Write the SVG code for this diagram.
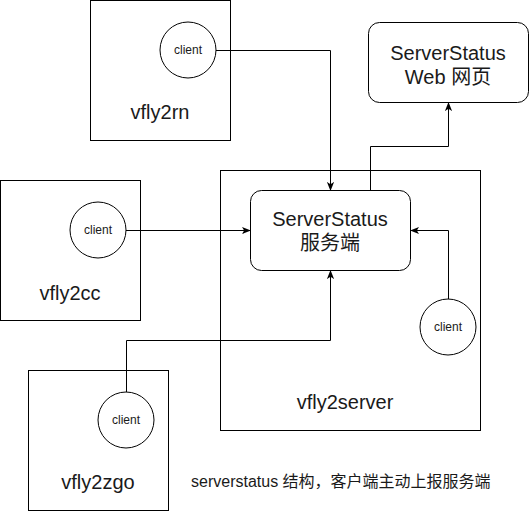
<svg xmlns="http://www.w3.org/2000/svg" width="529" height="511" viewBox="0 0 529 511">
<defs>
<style>
.box{fill:#fff;stroke:#000;stroke-width:1}
.c{fill:#fff;stroke:#000;stroke-width:1}
.lbl{font-family:"Liberation Sans","Noto Sans CJK SC",sans-serif;font-size:20px;fill:#1a1a1a;text-anchor:middle}
.cl{font-family:"Liberation Sans",sans-serif;font-size:12px;fill:#1a1a1a;text-anchor:middle}
.cap{font-family:"Liberation Sans","Noto Sans CJK SC",sans-serif;font-size:16px;fill:#1a1a1a}
.ln{fill:none;stroke:#000;stroke-width:1}
</style>
<marker id="ah" viewBox="0 0 10 10" refX="9" refY="5" markerWidth="9" markerHeight="9" markerUnits="userSpaceOnUse" orient="auto">
<path d="M0,1 L10,5 L0,9 L2.5,5 Z" fill="#000"/>
</marker>
</defs>
<g id="vfly2server"><rect class="box" x="220.5" y="170.5" width="260" height="260"/><text class="lbl" x="345" y="409">vfly2server</text></g>
<g id="vfly2rn"><rect class="box" x="90.5" y="0.5" width="140" height="140"/><text class="lbl" x="160" y="119">vfly2rn</text></g>
<g id="vfly2cc"><rect class="box" x="0.5" y="180.5" width="140" height="140"/><text class="lbl" x="70" y="300">vfly2cc</text></g>
<g id="vfly2zgo"><rect class="box" x="28.5" y="370.5" width="140" height="140"/><text class="lbl" x="98" y="489">vfly2zgo</text></g>
<g id="client-rn"><circle class="c" cx="188" cy="50" r="28"/><text class="cl" x="188" y="54">client</text></g>
<g id="client-cc"><circle class="c" cx="98" cy="230" r="28"/><text class="cl" x="98" y="234">client</text></g>
<g id="client-zgo"><circle class="c" cx="126" cy="420" r="28"/><text class="cl" x="126" y="424">client</text></g>
<g id="client-server"><circle class="c" cx="448" cy="327" r="28"/><text class="cl" x="448" y="331">client</text></g>
<g id="serverstatus"><rect class="box" x="250.5" y="190.5" width="160" height="80" rx="11"/><text class="lbl" x="330" y="226">ServerStatus</text><text class="lbl" x="330" y="250">服务端</text></g>
<g id="web"><rect class="box" x="368.5" y="22.5" width="160" height="80" rx="11"/><text class="lbl" x="448" y="60">ServerStatus</text><text class="lbl" x="448" y="84">Web 网页</text></g>
<g id="connectors">
<path class="ln" d="M216,50.5 H330.5 V190" marker-end="url(#ah)"/>
<path class="ln" d="M126,230.5 H250" marker-end="url(#ah)"/>
<path class="ln" d="M126.5,392 V340.5 H330.5 V271" marker-end="url(#ah)"/>
<path class="ln" d="M448.5,299 V230.5 H411" marker-end="url(#ah)"/>
<path class="ln" d="M370.5,190 V146.5 H448.5 V103" marker-end="url(#ah)"/>
</g>
<text class="cap" x="191" y="487">serverstatus 结构，客户端主动上报服务端</text>
</svg>
